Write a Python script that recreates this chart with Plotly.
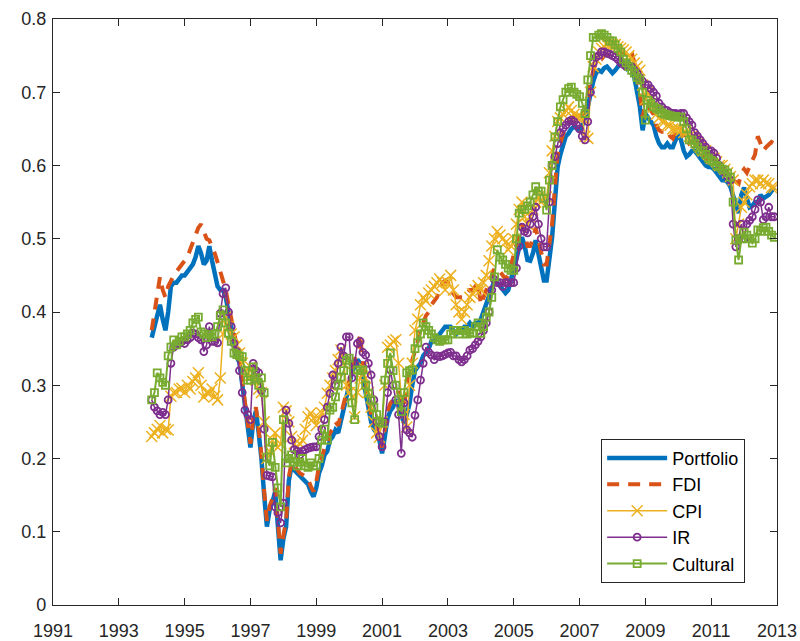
import plotly.graph_objects as go

start_year = 1994
n_months = 228

portfolio = [
    .365, .38, .40, .41, .39, .375, .40, .435, .44, .44, .445, .45,
    .45, .455, .46, .465, .475, .49, .48, .465, .47, .49, .47, .45,
    .435, .43, .43, .42, .40, .38, .36, .34, .33, .30, .27, .24,
    .215, .25, .265, .235, .20, .15, .107, .13, .14, .155, .10, .061,
    .09, .107, .17, .19, .184, .18, .175, .172, .168, .165, .155, .148,
    .16, .18, .19, .205, .21, .225, .23, .239, .235, .25, .27, .28,
    .30, .317, .325, .335, .33, .31, .29, .27, .25, .24, .235, .225,
    .207, .23, .255, .265, .27, .28, .275, .26, .248, .26, .275, .30,
    .32, .325, .33, .34, .345, .35, .36, .36, .365, .37, .375, .38,
    .38, .38, .375, .37, .375, .375, .38, .38, .385, .38, .385, .385,
    .39, .40, .41, .42, .43, .443, .44, .435, .43, .426, .43, .445,
    .46, .471, .49, .502, .49, .471, .47, .48, .498, .48, .46, .443,
    .443, .47, .502, .55, .598, .615, .63, .64, .644, .65, .653, .65,
    .648, .655, .665, .68, .70, .715, .726, .73, .728, .733, .735, .73,
    .726, .73, .735, .74, .737, .733, .74, .735, .72, .70, .68, .648,
    .671, .665, .66, .655, .64, .63, .625, .625, .63, .625, .625, .635,
    .644, .635, .62, .612, .615, .62, .62, .615, .61, .605, .60, .598,
    .598, .595, .59, .585, .58, .58, .577, .571, .56, .545, .535, .56,
    .57, .555, .543, .545, .55, .549, .56, .555, .557, .56, .565, .57,
]

fdi = [
    .375, .40, .42, .448, .43, .42, .435, .444, .45, .455, .46, .467,
    .47, .475, .485, .494, .505, .515, .52, .51, .50, .498, .49, .48,
    .468, .455, .44, .43, .41, .39, .37, .35, .335, .305, .275, .245,
    .22, .255, .27, .24, .205, .155, .115, .135, .145, .16, .105, .07,
    .095, .115, .175, .195, .19, .185, .18, .178, .175, .172, .162, .155,
    .168, .19, .20, .215, .22, .235, .24, .25, .245, .26, .28, .29,
    .31, .325, .335, .345, .37, .33, .30, .28, .26, .25, .245, .235,
    .215, .24, .265, .275, .28, .29, .29, .28, .27, .30, .33, .334,
    .35, .36, .375, .385, .395, .40, .41, .415, .42, .43, .44, .443,
    .44, .435, .425, .42, .42, .42, .42, .425, .43, .43, .435, .44,
    .41, .42, .43, .44, .45, .46, .46, .455, .45, .445, .45, .465,
    .48, .49, .51, .52, .51, .49, .49, .50, .515, .50, .48, .465,
    .465, .49, .52, .57, .615, .63, .645, .655, .66, .665, .668, .665,
    .662, .67, .68, .695, .715, .73, .74, .745, .745, .75, .752, .75,
    .745, .748, .752, .755, .755, .752, .758, .755, .74, .72, .70, .665,
    .685, .68, .675, .67, .655, .648, .646, .646, .648, .64, .637, .645,
    .655, .65, .64, .628, .63, .632, .63, .625, .62, .615, .61, .608,
    .608, .605, .60, .595, .59, .59, .588, .585, .58, .578, .575, .59,
    .595, .59, .60, .607, .615, .64, .63, .62, .625, .628, .632, .63,
]

cpi = [
    .23, .235, .24, .245, .235, .24, .239, .285, .29, .29, .295, .296,
    .29, .30, .295, .305, .31, .317, .30, .284, .29, .289, .295, .285,
    .28, .31, .37, .393, .38, .37, .366, .355, .344, .33, .32, .31,
    .325, .315, .307, .295, .29, .25, .20, .21, .225, .235, .215, .22,
    .27, .265, .25, .23, .22, .215, .22, .225, .24, .257, .262, .255,
    .245, .255, .262, .27, .289, .30, .31, .32, .335, .348, .33, .30,
    .29, .284, .257, .29, .31, .325, .31, .29, .27, .25, .235, .229,
    .25, .30, .352, .355, .36, .362, .33, .284, .26, .243, .30, .33,
    .375, .39, .41, .42, .415, .426, .43, .435, .44, .445, .44, .43,
    .44, .45, .43, .41, .40, .39, .40, .41, .42, .425, .43, .436,
    .43, .44, .45, .47, .49, .50, .51, .505, .50, .495, .485, .49,
    .50, .52, .54, .55, .53, .52, .53, .54, .55, .557, .55, .557,
    .557, .59, .62, .64, .66, .665, .67, .675, .68, .675, .67, .666,
    .666, .665, .64, .637, .70, .735, .745, .755, .76, .762, .765, .765,
    .765, .765, .762, .76, .758, .755, .75, .745, .74, .735, .73, .71,
    .69, .70, .69, .68, .67, .665, .66, .66, .655, .655, .65, .65,
    .65, .648, .645, .645, .64, .64, .635, .63, .625, .62, .62, .615,
    .61, .61, .605, .60, .60, .595, .59, .585, .58, .50, .52, .543,
    .55, .56, .571, .575, .58, .58, .575, .58, .576, .575, .57, .57,
]

ir = [
    .28, .27, .265, .26, .263, .26, .28, .33, .352, .355, .357, .36,
    .357, .362, .365, .371, .37, .365, .362, .346, .355, .38, .36, .36,
    .358, .398, .425, .433, .40, .38, .357, .346, .32, .29, .266, .26,
    .253, .33, .32, .317, .293, .24, .177, .176, .175, .134, .126, .112,
    .139, .266, .248, .225, .212, .21, .205, .21, .212, .214, .215, .216,
    .216, .23, .24, .253, .27, .289, .314, .30, .33, .352, .34, .366,
    .366, .31, .33, .357, .36, .345, .341, .33, .314, .28, .25, .23,
    .216, .25, .29, .321, .30, .28, .26, .207, .276, .239, .235, .229,
    .259, .28, .307, .33, .352, .345, .341, .335, .34, .339, .34, .342,
    .344, .345, .34, .34, .335, .332, .335, .34, .348, .35, .355, .36,
    .366, .375, .385, .40, .43, .444, .44, .44, .435, .44, .44, .44,
    .44, .46, .49, .516, .51, .508, .52, .53, .543, .52, .50, .489,
    .489, .55, .60, .612, .63, .645, .651, .655, .66, .662, .66, .655,
    .65, .64, .635, .66, .70, .74, .748, .75, .755, .755, .753, .752,
    .75, .748, .745, .74, .738, .735, .735, .735, .73, .726, .72, .715,
    .71, .71, .705, .70, .695, .685, .68, .676, .675, .672, .671, .671,
    .67, .671, .671, .665, .66, .655, .645, .64, .635, .63, .625, .62,
    .62, .617, .61, .60, .595, .59, .585, .58, .52, .489, .50, .52,
    .50, .52, .525, .53, .54, .553, .55, .526, .53, .543, .53, .53,
]

cultural = [
    .28, .29, .317, .31, .304, .30, .34, .352, .362, .355, .36, .366,
    .366, .37, .375, .385, .39, .393, .373, .37, .365, .369, .366, .37,
    .38, .395, .403, .385, .371, .36, .344, .342, .34, .339, .32, .307,
    .307, .325, .31, .30, .31, .29, .202, .19, .222, .188, .16, .134,
    .253, .194, .20, .205, .195, .19, .195, .20, .19, .188, .194, .19,
    .19, .20, .225, .24, .225, .266, .27, .284, .30, .311, .32, .334,
    .337, .276, .253, .321, .32, .321, .30, .289, .28, .27, .26, .25,
    .248, .307, .33, .344, .32, .30, .28, .264, .29, .317, .32, .321,
    .35, .358, .37, .385, .38, .375, .37, .365, .362, .36, .362, .362,
    .362, .37, .375, .375, .37, .375, .375, .37, .372, .371, .38, .385,
    .371, .38, .393, .40, .42, .448, .485, .475, .471, .465, .46, .457,
    .457, .50, .535, .54, .54, .545, .55, .56, .571, .565, .565, .555,
    .539, .58, .60, .639, .66, .68, .69, .70, .705, .707, .70, .697,
    .694, .685, .671, .717, .75, .775, .775, .778, .78, .778, .775, .77,
    .77, .765, .76, .755, .745, .74, .735, .73, .726, .72, .717, .70,
    .662, .689, .685, .68, .678, .676, .672, .67, .669, .668, .667, .667,
    .666, .666, .66, .65, .635, .635, .63, .625, .62, .62, .615, .61,
    .607, .605, .60, .598, .595, .594, .59, .584, .55, .498, .471, .50,
    .509, .505, .50, .494, .50, .512, .51, .515, .516, .51, .505, .502,
]

x_tick_vals = list(range(1991, 2014, 2))
y_tick_vals = [0, 0.1, 0.2, 0.3, 0.4, 0.5, 0.6, 0.7, 0.8]
y_tick_text = ["0", "0.1", "0.2", "0.3", "0.4", "0.5", "0.6", "0.7", "0.8"]

t = [start_year + i / 12 for i in range(n_months)]

FONT = "Liberation Sans, Arial, Helvetica, sans-serif"
AX = "#262626"

fig = go.Figure()
fig.add_trace(go.Scatter(x=t, y=portfolio, name="Portfolio", mode="lines",
                         line=dict(color="#0072BD", width=4.5)))
fig.add_trace(go.Scatter(x=t, y=fdi, name="FDI", mode="lines",
                         line=dict(color="#D95319", width=4, dash="12px,9px")))
fig.add_trace(go.Scatter(x=t, y=cpi, name="CPI", mode="lines+markers",
                         line=dict(color="#EDB120", width=1.5),
                         marker=dict(symbol="x-thin-open", size=11,
                                     line=dict(color="#EDB120", width=1.5))))
fig.add_trace(go.Scatter(x=t, y=ir, name="IR", mode="lines+markers",
                         line=dict(color="#7E2F8E", width=1.5),
                         marker=dict(symbol="circle-open", size=7,
                                     line=dict(color="#7E2F8E", width=1.8))))
fig.add_trace(go.Scatter(x=t, y=cultural, name="Cultural", mode="lines+markers",
                         line=dict(color="#77AC30", width=2),
                         marker=dict(symbol="square-open", size=7,
                                     line=dict(color="#77AC30", width=1.8))))

axis_common = dict(showline=True, linecolor=AX, linewidth=1.3, mirror="ticks",
                   ticks="inside", ticklen=7, tickwidth=1.3, tickcolor=AX,
                   showgrid=False, zeroline=False, automargin=False,
                   tickfont=dict(family=FONT, size=18, color=AX))

fig.update_layout(
    width=800, height=641,
    margin=dict(l=53, r=23, t=19, b=36, autoexpand=False),
    paper_bgcolor="white", plot_bgcolor="white",
    font=dict(family=FONT, color=AX),
    xaxis=dict(range=[1991, 2013], tickvals=x_tick_vals,
               ticktext=[str(v) for v in x_tick_vals],
               ticklabelstandoff=9, **axis_common),
    yaxis=dict(range=[0, 0.8], tickvals=y_tick_vals, ticktext=y_tick_text,
               ticklabelstandoff=2, **axis_common),
    legend=dict(x=0.956, xanchor="right", y=0.038, yanchor="bottom",
                bgcolor="white", bordercolor=AX, borderwidth=1,
                font=dict(family=FONT, size=18, color="#000000"),
                itemwidth=60, tracegroupgap=0),
    showlegend=True,
)

fig.write_html("out.html")
